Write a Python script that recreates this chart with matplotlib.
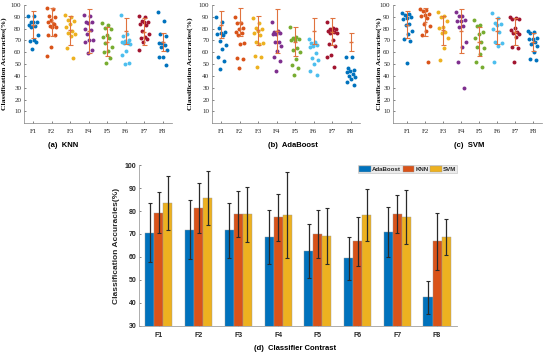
import numpy as np
import matplotlib.pyplot as plt
from matplotlib.patches import Patch

cats = ['F1', 'F2', 'F3', 'F4', 'F5', 'F6', 'F7', 'F8']
dot_colors = ['#0072BD', '#D95319', '#EDB120', '#7E2F8E',
              '#77AC30', '#4DBEEE', '#A2142F', '#0072BD']

# per-subject accuracies
knn_pts = [
    [90.7, 90.7, 85.9, 85.9, 85.4, 83.1, 82.0, 81.1, 74.9, 70.4, 69.3, 68.5, 63.1],
    [97.2, 96.6, 90.7, 90.1, 87.6, 85.9, 84.0, 82.3, 81.7, 81.1, 74.9, 74.9, 64.8, 56.9],
    [91.8, 90.1, 87.3, 86.8, 84.0, 81.7, 78.0, 76.1, 75.5, 73.8, 63.4, 54.9],
    [91.8, 90.7, 85.9, 85.9, 84.5, 79.4, 78.9, 75.2, 70.4, 70.4, 68.7, 62.0, 59.2],
    [85.1, 83.1, 80.3, 79.4, 74.6, 73.2, 71.8, 68.2, 64.8, 61.4, 60.6, 55.2, 50.7],
    [91.5, 75.5, 73.8, 70.4, 69.9, 68.5, 68.2, 67.6, 67.3, 61.1, 57.7, 50.7, 49.9],
    [90.7, 89.6, 86.5, 85.9, 85.9, 83.9, 83.1, 78.3, 75.5, 72.7, 72.4, 71.0, 69.0, 62.0],
    [94.4, 86.8, 75.2, 73.8, 68.2, 67.6, 66.2, 64.2, 62.0, 56.3, 55.8, 49.3],
]
ada_pts = [
    [90.1, 85.4, 80.3, 76.9, 76.1, 75.2, 74.6, 69.9, 66.2, 62.8, 56.3, 53.0, 45.9],
    [89.6, 85.1, 85.1, 80.3, 79.4, 76.9, 76.6, 74.6, 67.6, 66.8, 55.5, 54.4, 47.0],
    [88.7, 85.1, 80.3, 79.4, 78.0, 76.1, 74.6, 68.5, 67.6, 66.8, 56.9, 56.3, 47.9],
    [85.9, 78.3, 76.9, 76.6, 75.8, 75.2, 69.0, 68.5, 65.4, 61.1, 55.8, 52.7, 44.5],
    [81.1, 72.7, 71.8, 71.0, 70.4, 70.4, 63.4, 62.0, 60.0, 54.1, 49.3, 47.0, 40.8],
    [71.0, 69.0, 67.6, 66.2, 65.6, 64.2, 59.7, 54.9, 53.5, 49.9, 44.2, 40.8],
    [85.6, 80.3, 79.7, 79.4, 78.6, 78.0, 77.2, 76.4, 76.1, 70.4, 66.8, 65.6, 57.7, 56.3, 47.9],
    [56.3, 55.8, 46.5, 45.1, 44.2, 43.7, 41.7, 40.0, 39.4, 37.2, 35.2, 32.4],
]
svm_pts = [
    [93.5, 92.4, 91.5, 90.1, 88.7, 88.5, 83.9, 83.1, 78.3, 75.5, 71.0, 69.9, 51.3],
    [96.6, 95.8, 95.2, 92.4, 91.5, 90.7, 88.7, 83.9, 82.3, 78.0, 74.6, 52.1],
    [94.1, 90.4, 89.6, 86.8, 81.1, 80.3, 76.9, 76.1, 71.8, 63.4, 53.5],
    [94.4, 91.0, 91.0, 87.3, 86.8, 86.5, 82.3, 81.1, 69.0, 64.8, 51.5, 30.1],
    [87.3, 83.1, 82.3, 76.9, 75.5, 71.8, 69.0, 64.8, 63.9, 58.3, 52.1, 47.9],
    [93.5, 88.7, 84.5, 83.9, 83.1, 79.4, 77.5, 69.0, 68.0, 65.4, 52.1],
    [90.1, 88.7, 88.5, 87.9, 80.8, 78.9, 76.9, 76.1, 75.8, 73.2, 64.8, 63.4, 52.1],
    [78.0, 77.5, 76.1, 71.8, 71.5, 71.0, 69.0, 67.0, 65.4, 60.6, 54.1, 53.5],
]

# mean / std per classifier (bottom panel)
ada_mean = [70.6, 71.9, 71.6, 68.6, 62.6, 59.4, 70.9, 42.5]
ada_std = [12.7, 12.7, 12.0, 11.8, 11.9, 9.5, 11.0, 7.1]
knn_mean = [79.3, 81.3, 78.8, 77.2, 69.9, 66.8, 78.6, 66.8]
knn_std = [8.9, 11.0, 10.0, 10.2, 10.5, 10.6, 8.3, 12.5]
svm_mean = [83.5, 85.6, 78.5, 78.3, 69.1, 78.1, 77.4, 68.8]
svm_std = [11.8, 11.7, 12.0, 18.7, 12.1, 11.3, 11.6, 7.9]

serif = 'Liberation Serif'
sans = 'Liberation Sans'

fig = plt.figure(figsize=(5.5, 3.58), dpi=100)

top_boxes = [[0.0436, 0.656, 0.269, 0.330],
             [0.3855, 0.656, 0.269, 0.330],
             [0.7145, 0.656, 0.271, 0.330]]
top_xlims = [(0.5, 8.5), (0.5, 8.5), (0.2, 8.5)]
top_data = [knn_pts, ada_pts, svm_pts]
captions = ['(a)  KNN', '(b)  AdaBoost', '(c)  SVM']
cap_x = [63, 293, 469]
ylab_x = [-0.118, -0.128, -0.075]
x = np.arange(1, 9)

for box, xl, pts, cap, cx, lx in zip(top_boxes, top_xlims, top_data,
                                     captions, cap_x, ylab_x):
    ax = fig.add_axes(box)
    for i, vals in enumerate(pts):
        n = len(vals)
        jit = ((np.arange(n) * 0.618034) % 1 - 0.5) * 0.55
        ax.scatter(i + 1 + jit, vals, s=8, color=dot_colors[i], lw=0, zorder=2)
    ax.errorbar(x, svm_mean, yerr=svm_std, fmt='_', color='#E0733F',
                ecolor='#E0733F', elinewidth=0.8, capsize=1.8, capthick=0.8,
                markersize=3, zorder=3)
    ax.set_xlim(*xl)
    ax.set_ylim(0, 100)
    ax.set_yticks(np.arange(10, 101, 10))
    ax.set_xticks(x)
    ax.set_xticklabels(cats, fontfamily=serif, fontsize=5)
    for t in ax.get_yticklabels():
        t.set_fontfamily(serif)
    ax.tick_params(axis='both', direction='in', length=1.5, width=0.4,
                   labelsize=5, pad=2, colors='#262626')
    ax.tick_params(axis='x', pad=4)
    for s in ['top', 'right']:
        ax.spines[s].set_visible(False)
    for s in ['left', 'bottom']:
        ax.spines[s].set_color('#808080')
        ax.spines[s].set_linewidth(0.5)
    ax.set_ylabel('Classification Accuracies(%)', fontfamily=serif,
                  fontweight='bold', fontsize=5.4)
    ax.yaxis.set_label_coords(lx, 0.5)
    fig.text(cx / 550, 1 - 145 / 358, cap, ha='center', va='center',
             fontfamily=sans, fontweight='bold', fontsize=5.5)

# bottom panel: grouped bars
axd = fig.add_axes([0.2527, 0.0894, 0.578, 0.4497])
w = 0.227
series = [(ada_mean, ada_std, '#0072BD', 'AdaBoost'),
          (knn_mean, knn_std, '#D95319', 'KNN'),
          (svm_mean, svm_std, '#EDB120', 'SVM')]
handles = []
for k, (m, sd, c, lab) in enumerate(series):
    pos = x + (k - 1) * w
    axd.bar(pos, m, width=w, color=c, edgecolor='#9a9a9a', linewidth=0.3,
            zorder=2)
    axd.errorbar(pos, m, yerr=sd, fmt='none', ecolor='#2a2a2a',
                 elinewidth=0.9, capsize=1.2, capthick=0.8, zorder=3)
    handles.append(Patch(facecolor=c, edgecolor='#9a9a9a', linewidth=0.3, label=lab))

axd.set_xlim(0.5, 8.5)
axd.set_ylim(30, 100)
axd.set_yticks(np.arange(30, 101, 10))
axd.set_xticks(x)
axd.set_xticklabels(cats)
axd.tick_params(axis='both', direction='in', length=1.5, width=0.4,
                labelsize=5, colors='#262626', pad=2)
axd.tick_params(axis='x', pad=4)
for t in axd.get_xticklabels() + axd.get_yticklabels():
    t.set_fontfamily(sans)
    t.set_fontweight('bold')
for s in ['top', 'right']:
    axd.spines[s].set_visible(False)
for s in ['left', 'bottom']:
    axd.spines[s].set_color('#a0a0a0')
    axd.spines[s].set_linewidth(0.6)
axd.set_ylabel('Classification Accuracies(%)', fontfamily=sans,
               fontweight='bold', fontsize=6, color='#262626')
axd.yaxis.set_label_coords(-0.059, 0.5)

leg = axd.legend(handles=handles, loc='upper right', bbox_to_anchor=(1.0, 1.0),
                 ncol=3, fontsize=4.4, frameon=True, fancybox=False,
                 handlelength=1.9, handleheight=1.1, handletextpad=0.15,
                 columnspacing=0.3, borderpad=0.15, borderaxespad=0)
leg.get_frame().set_facecolor('#e6e6e6')
leg.get_frame().set_edgecolor('#b0b0b0')
leg.get_frame().set_linewidth(0.4)
for t in leg.get_texts():
    t.set_fontfamily(sans)
    t.set_fontweight('bold')
    t.set_color('#262626')

fig.text(295 / 550, 1 - 349 / 358, '(d)  Classifier Contrast', ha='center',
         va='center', fontfamily=sans, fontweight='bold', fontsize=5.5)

fig.savefig('out.png', dpi=100)
